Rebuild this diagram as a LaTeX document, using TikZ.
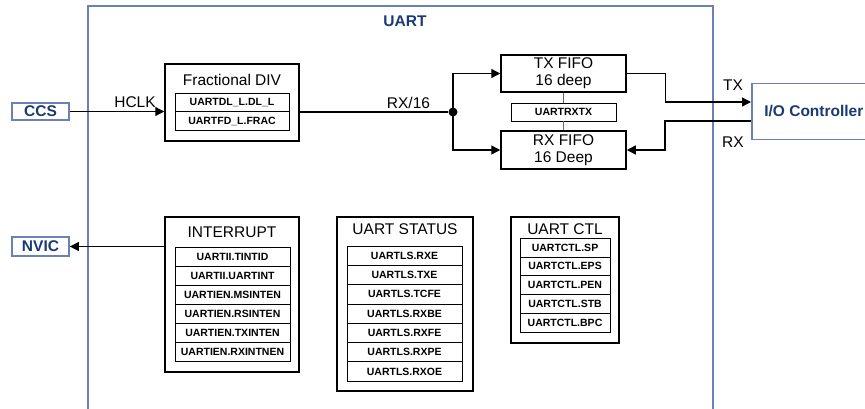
\documentclass[tikz,border=0pt]{standalone}
\usepackage{fontspec}
\setmainfont{Liberation Sans}
\usepackage{xcolor}
\usetikzlibrary{positioning, arrows.meta, shadows}

\definecolor{frameblue}{HTML}{6B80B5}
\definecolor{labelblue}{HTML}{1B3A73}

\begin{document}
\begin{tikzpicture}[
    x=1pt, y=-1pt,
    titletext/.style={font=\fontsize{15.5}{17}\selectfont},
    block/.style={draw, line width=1.5pt, fill=white, inner sep=0pt,
        drop shadow={shadow xshift=1.3pt, shadow yshift=-1.3pt, fill=black!35, opacity=1}},
    reg/.style={draw, line width=0.6pt, fill=white, inner sep=0pt,
        font=\bfseries\fontsize{10.5}{12}\selectfont,
        drop shadow={shadow xshift=1pt, shadow yshift=-1pt, fill=black!30, opacity=1}},
    ext/.style={draw=frameblue, line width=1.7pt, fill=white, inner sep=0pt,
        text=labelblue, font=\bfseries\fontsize{15.5}{17}\selectfont},
    sig/.style={line width=1.4pt, -{Triangle[length=9pt, width=9pt]}},
    wire/.style={line width=1.4pt}
]

\useasboundingbox (0,0) rectangle (865,408);

% --- 1. UART frame ---
\draw[frameblue, line width=1.5pt] (88,6) rectangle (713,420);
\node[text=labelblue, font=\bfseries\fontsize{15.5}{17}\selectfont] (uartT) at (405,21) {UART};

% --- 2. Outside blocks ---
\node[ext, minimum width=57pt, minimum height=17pt] (ccs) at (40.5,111.5) {CCS};
\node[ext, minimum width=57pt, minimum height=19pt] (nvic) at (40.5,246.5) {NVIC};
\node[ext, anchor=west, minimum width=124pt, minimum height=56pt] (io) at (751,111.5) {I/O Controller};

% --- 3. Fractional divider ---
\node[block, minimum width=134pt, minimum height=77pt] (frac) at (232,102.5) {};
\node[titletext] (fracT) at (232,79.5) {Fractional DIV};
\foreach \i/\t in {0/UARTDL\_L.DL\_L, 1/UARTFD\_L.FRAC}{
    \node[reg, minimum width=114pt, minimum height=18.5pt] (frac\i) at (232,{102.5+18.5*\i}) {\t};
}

% --- 4. FIFOs ---
\node[block, titletext, align=center, minimum width=125pt, minimum height=37pt] (txf) at (563.5,73.5) {TX FIFO\\16 deep};
\node[block, titletext, align=center, minimum width=125pt, minimum height=38pt] (rxf) at (563.5,150) {RX FIFO\\16 Deep};
\node[reg, minimum width=105pt, minimum height=18pt] (rxtx) at (563.5,112) {UARTRXTX};
\draw[black!60, line width=0.8pt] (txf.south) -- (rxtx.north);
\draw[black!60, line width=0.8pt] (rxtx.south) -- (rxf.north);

% --- 5. Register groups ---
\node[block, minimum width=134pt, minimum height=155pt] (intr) at (232,294.5) {};
\node[titletext] (intrT) at (232,232) {INTERRUPT};
\foreach \i/\t in {0/UARTII.TINTID, 1/UARTII.UARTINT, 2/UARTIEN.MSINTEN,
                   3/UARTIEN.RSINTEN, 4/UARTIEN.TXINTEN, 5/UARTIEN.RXINTNEN}{
    \node[reg, minimum width=115pt, minimum height=19pt] (intr\i) at (232.5,{256.5+19*\i}) {\t};
}

\node[block, minimum width=136pt, minimum height=174pt] (stat) at (405,304) {};
\node[titletext] (statT) at (405,229.5) {UART STATUS};
\foreach \i/\t in {0/UARTLS.RXE, 1/UARTLS.TXE, 2/UARTLS.TCFE, 3/UARTLS.RXBE,
                   4/UARTLS.RXFE, 5/UARTLS.RXPE, 6/UARTLS.RXOE}{
    \node[reg, minimum width=115pt, minimum height=19.3pt] (stat\i) at (404.5,{255.6+19.3*\i}) {\t};
}

\node[block, minimum width=108pt, minimum height=126pt] (ctl) at (565,280) {};
\node[titletext] (ctlT) at (565,229) {UART CTL};
\foreach \i/\t in {0/UARTCTL.SP, 1/UARTCTL.EPS, 2/UARTCTL.PEN, 3/UARTCTL.STB, 4/UARTCTL.BPC}{
    \node[reg, minimum width=90pt, minimum height=18.8pt] (ctl\i) at (565,{247.4+18.8*\i}) {\t};
}

% --- 6. Signals ---
\draw[sig] (ccs.east) -- (ccs.east -| frac.west);
\node[titletext] (hclk) at (135,102) {HCLK};

\node[circle, fill, inner sep=0pt, minimum size=9pt] (jn) at (453,112) {};
\draw[wire] (frac.east |- jn) -- (jn);
\node[titletext] (rx16) at (408.5,102.5) {RX/16};
\draw[sig] (jn.center) |- (txf.west);
\draw[sig] (jn.center) |- (rxf.west);

\draw[sig] (txf.east) -- ++(39,0) |- ([yshift=9.5pt]io.west);
\draw[sig] ([yshift=-9.5pt]io.west) -- ++(-86,0) |- (rxf.east);
\node[titletext] (txL) at (733,85) {TX};
\node[titletext] (rxL) at (733,142) {RX};

\draw[sig] (nvic.east -| intr.west) -- (nvic.east);

\end{tikzpicture}
\end{document}
